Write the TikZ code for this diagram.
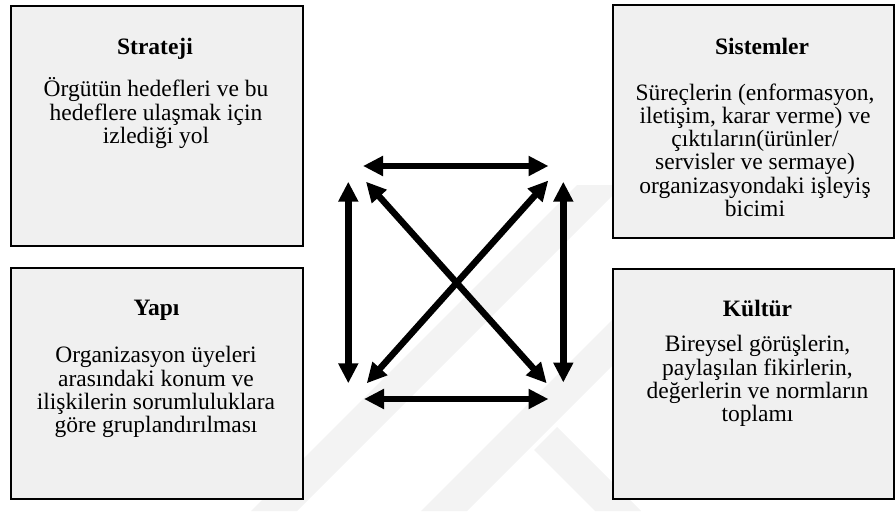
\documentclass[tikz,border=0pt]{standalone}
\usepackage{fontspec}
\setmainfont{Liberation Serif}
\usetikzlibrary{arrows.meta}
\definecolor{boxfill}{HTML}{F0F0F0}
\definecolor{shade}{HTML}{F3F3F3}
\begin{document}
\begin{tikzpicture}[x=1pt,y=-1pt,
  panel/.style={draw=black, line width=1.6pt, fill=boxfill, anchor=north west, inner sep=0pt},
  heading/.style={anchor=base, inner sep=0pt, font=\fontsize{23.5}{23.3}\selectfont\bfseries},
  body/.style={anchor=base, inner sep=0pt, font=\fontsize{23.5}{23.3}\selectfont},
  link/.style={line width=6.5pt, {Triangle[length=20pt,width=19pt]}-{Triangle[length=20pt,width=19pt]}},
  band/.style={fill=shade, draw=none}
]
\useasboundingbox (0,0) rectangle (896,511);

% faint diagonal bands in the background
\fill[band] (251,511) -- (297,511) -- (623,185) -- (577,185) -- cycle;
\fill[band] (421,511) -- (467,511) -- (695,283) -- (649,283) -- cycle;
\fill[band] (557,427) -- (641,511) -- (595,511) -- (534,450) -- cycle;

% four panels
\node[panel, minimum width=292pt, minimum height=240pt] (strateji) at (10,5) {};
\node[panel, minimum width=281pt, minimum height=233pt] (sistemler) at (612,4) {};
\node[panel, minimum width=292pt, minimum height=231pt] (yapi) at (10,267) {};
\node[panel, minimum width=281pt, minimum height=230pt] (kultur) at (612,268) {};

% panel headings
\node[heading] (tStrateji) at (155,55) {Strateji};
\node[heading] (tSistemler) at (762,54.3) {Sistemler};
\node[heading] (tYapi) at (156.5,315) {Yapı};
\node[heading] (tKultur) at (757.5,316) {Kültür};

% panel descriptions
\node[body] (dStrateji) at (156,96.7) {\parbox[t]{285pt}{\centering
  Örgütün hedefleri ve bu\\hedeflere ulaşmak için\\izlediği yol}};
\node[body] (dSistemler) at (755,100) {\parbox[t]{275pt}{\centering
  Süreçlerin (enformasyon,\\iletişim, karar verme) ve\\çıktıların(ürünler/\\servisler ve sermaye)\\organizasyondaki işleyiş\\bicimi}};
\node[body] (dYapi) at (156,362.7) {\parbox[t]{285pt}{\centering
  Organizasyon üyeleri\\arasındaki konum ve\\ilişkilerin sorumluluklara\\göre gruplandırılması}};
\node[body] (dKultur) at (757.5,351.7) {\parbox[t]{275pt}{\centering
  Bireysel görüşlerin,\\paylaşılan fikirlerin,\\değerlerin ve normların\\toplamı}};

% arrow end points
\coordinate (hTopL) at (363,166);
\coordinate (hTopR) at (548.5,166);
\coordinate (hBotL) at (364,399);
\coordinate (hBotR) at (548.5,399);
\coordinate (vLeftT) at (348.3,181.7);
\coordinate (vLeftB) at (348.3,383.3);
\coordinate (vRightT) at (563.3,181.7);
\coordinate (vRightB) at (563.3,382.5);
\coordinate (dTL) at (366,181.7);
\coordinate (dBR) at (546.7,383.3);
\coordinate (dTR) at (548.3,180.5);
\coordinate (dBL) at (366.7,383.3);

% double-headed links
\draw[link] (hTopL) -- (hTopR);
\draw[link] (hBotL) -- (hBotR);
\draw[link] (vLeftT) -- (vLeftB);
\draw[link] (vRightT) -- (vRightB);
\draw[link] (dTL) -- (dBR);
\draw[link] (dTR) -- (dBL);
\end{tikzpicture}
\end{document}
